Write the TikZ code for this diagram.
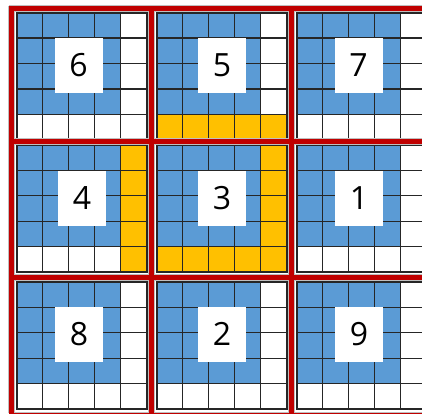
\documentclass[tikz,border=0pt]{standalone}
\usepackage{fontspec}
\setmainfont{Open Sans}
\definecolor{cblue}{HTML}{5B9BD5}
\definecolor{corange}{HTML}{FFC000}
\definecolor{cred}{HTML}{C00000}
\definecolor{cgrid}{HTML}{262626}
\begin{document}
\begin{tikzpicture}[x=1pt,y=-1pt,
  gridline/.style={draw=cgrid, line width=1.3pt},
  gridframe/.style={draw=cgrid, line width=1.8pt},
  redline/.style={draw=cred, line width=5.5pt},
  redhalo/.style={draw=black!25, line width=7.5pt},
  numbox/.style={fill=white, minimum width=48pt, minimum height=55pt, inner sep=0pt, font=\fontsize{32}{32}\selectfont}]
\useasboundingbox (0,0) rectangle (422,413);
\fill[white] (0,0) rectangle (422,413);
\foreach \bx/\by/\n/\cx/\cy/\typ in {
  16.7/12.7/6/78.5/65.5/0, 156.7/12.7/5/222/65.5/1, 296.7/12.7/7/358.5/65.5/0,
  16.7/145/4/82/198/2, 156.7/145/3/222/198/3, 296.7/145/1/359/198/0,
  16.7/282/8/79/334.3/0, 156.7/282/2/222/334.3/0, 296.7/282/9/359/334.3/0}
{
  \fill[cblue] (\bx,\by) rectangle ++(104,101.6);
  \ifnum\typ=1 \fill[corange] (\bx,\by+101.6) rectangle ++(130,25.4); \fi
  \ifnum\typ=2 \fill[corange] (\bx+104,\by) rectangle ++(26,127); \fi
  \ifnum\typ=3
    \fill[corange] (\bx,\by+101.6) rectangle ++(130,25.4);
    \fill[corange] (\bx+104,\by) rectangle ++(26,127);
  \fi
  \foreach \k in {1,...,4}{
    \draw[gridline] (\bx+\k*26,\by) -- (\bx+\k*26,\by+127);
    \draw[gridline] (\bx,\by+\k*25.4) -- (\bx+130,\by+\k*25.4);
  }
  \draw[gridframe] (\bx,\by) rectangle ++(130,127);
  \node[numbox] (n\n) at (\cx,\cy) {\n};
}
% red separators
\foreach \x in {11.7,151.7,291.5} \draw[redhalo] (\x,6) -- (\x,413);
\foreach \y in {8.5,141.5,277.5,416} \draw[redhalo] (9,\y) -- (422,\y);
\foreach \x in {11.7,151.7,291.5} \draw[redline] (\x,6) -- (\x,413);
\foreach \y in {8.5,141.5,277.5,416} \draw[redline] (9,\y) -- (422,\y);
\end{tikzpicture}
\end{document}
